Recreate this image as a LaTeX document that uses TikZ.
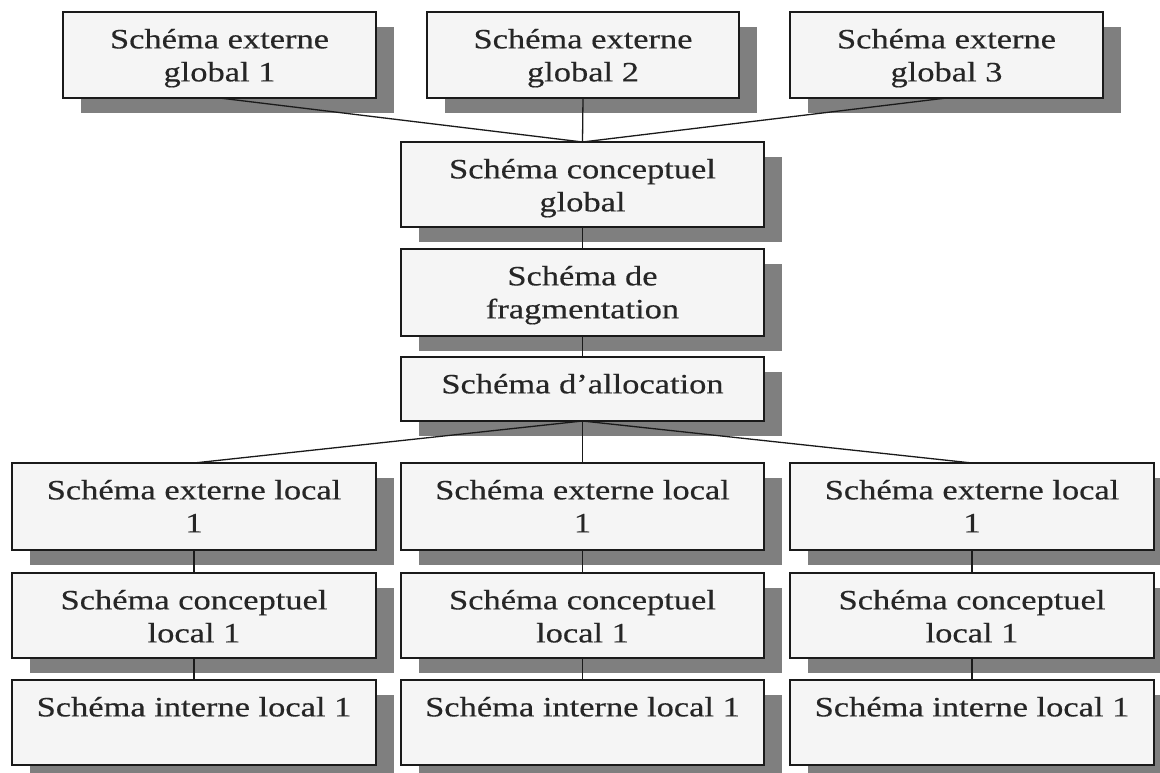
\documentclass[tikz,border=0pt]{standalone}
\usepackage{fontspec}
\setmainfont{Liberation Serif}[FakeStretch=1.23,FakeBold=0.4]
\usetikzlibrary{shadows,calc}
\definecolor{boxfill}{HTML}{F5F5F5}
\definecolor{shadowgray}{HTML}{7F7F7F}
\definecolor{edge}{HTML}{1A1A1A}
\begin{document}
\begin{tikzpicture}[x=1pt,y=-1pt,
  schbox/.style={draw=edge, line width=1.4pt, fill=boxfill, inner sep=0pt, outer sep=0pt,
    anchor=north west,
    drop shadow={shadow xshift=18pt, shadow yshift=-15pt, fill=shadowgray, opacity=1}},
  schtext/.style={anchor=north, inner sep=0pt, align=center,
    font=\fontsize{28pt}{33pt}\selectfont, text=black!85},
  link/.style={draw=edge, line width=1.3pt}]
\clip (0,0) rectangle (1160,773);
\fill[white] (0,0) rectangle (1160,773);

% box helper: name, left, top, width, height, text
\newcommand{\schema}[6]{%
  \node[schbox, minimum width=#4pt, minimum height=#5pt] (#1) at (#2,#3) {};
  \node[schtext] (#1t) at ($(#1.north)+(0,16.7)$) {#6};}

% external global schemas
\schema{eg1}{63}{12}{313}{86}{Schéma externe\\global 1}
\schema{eg2}{427}{12}{312}{86}{Schéma externe\\global 2}
\schema{eg3}{790}{12}{313}{86}{Schéma externe\\global 3}

% central chain
\schema{cg}{401}{142}{363}{85}{Schéma conceptuel\\global}
\schema{fr}{401}{249}{363}{87}{Schéma de\\fragmentation}
\schema{al}{401}{357}{363}{64}{Schéma d’allocation}

% local sites
\schema{el1}{12}{463}{364}{87}{Schéma externe local\\1}
\schema{el2}{401}{463}{363}{87}{Schéma externe local\\1}
\schema{el3}{790}{463}{364}{87}{Schéma externe local\\1}

\schema{cl1}{12}{573}{364}{85}{Schéma conceptuel\\local 1}
\schema{cl2}{401}{573}{363}{85}{Schéma conceptuel\\local 1}
\schema{cl3}{790}{573}{364}{85}{Schéma conceptuel\\local 1}

\schema{il1}{12}{680}{364}{85}{Schéma interne local 1}
\schema{il2}{401}{680}{363}{85}{Schéma interne local 1}
\schema{il3}{790}{680}{364}{85}{Schéma interne local 1}

% connectors
\draw[link] (eg1.south) -- (cg.north);
\draw[link] (eg2.south) -- (cg.north);
\draw[link] (eg3.south) -- (cg.north);
\draw[link] (cg.south) -- (fr.north);
\draw[link] (fr.south) -- (al.north);
\draw[link] (al.south) -- (el1.north);
\draw[link] (al.south) -- (el2.north);
\draw[link] (al.south) -- (el3.north);
\foreach \i in {1,2,3}{
  \draw[link] (el\i.south) -- (cl\i.north);
  \draw[link] (cl\i.south) -- (il\i.north);
}
\end{tikzpicture}
\end{document}
